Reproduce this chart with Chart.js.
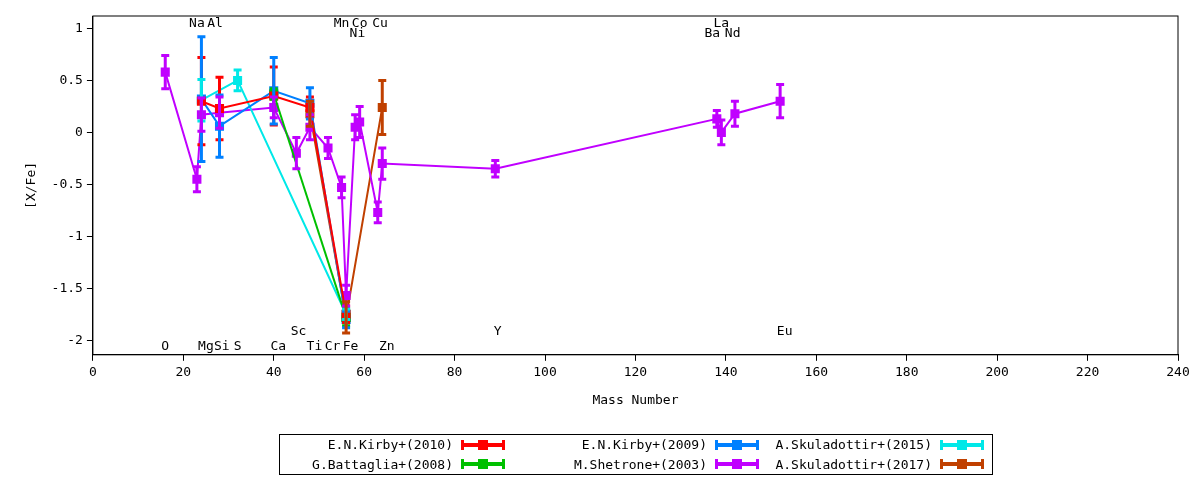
<!DOCTYPE html>
<html>
<head>
<meta charset="utf-8">
<script src="https://cdn.jsdelivr.net/npm/chart.js@4"></script>
<style>
  body { margin: 0; background: #fff; font-family: "DejaVu Sans Mono", monospace; }
  #wrap { position: relative; width: 1200px; height: 480px; }
  #legend { position: absolute; left: 279px; top: 434px; width: 712px; height: 39px; border: 1px solid #000;
    display: grid; grid-template-columns: 233px 254px 225px; font-size: 13px; }
  .item { display: flex; justify-content: flex-end; align-items: center; height: 19px; }
  .sw { width: 44px; height: 4px; margin: 0 8px 0 8px; position: relative; }
  .sw::before, .sw::after { content: ""; position: absolute; top: -3px; width: 3px; height: 10px; background: inherit; }
  .sw::before { left: 0; } .sw::after { right: 0; }
  .sw i { position: absolute; left: 17px; top: -3px; width: 10px; height: 10px; background: inherit; }
</style>
</head>
<body>
<div id="wrap">
  <canvas id="c" width="1200" height="480"></canvas>
  <div id="legend"></div>
</div>
<script>
// mass number, [X/Fe], error
const kirby2010Mass = [24, 28, 40, 48, 56];
const kirby2010Val = [0.30, 0.23, 0.35, 0.24, -1.75];
const kirby2010Err = [0.42, 0.30, 0.28, 0.10, 0.08];

const battagliaMass = [40, 56];
const battagliaVal = [0.37, -1.78];
const battagliaErr = [0.05, 0.08];

const kirby2009Mass = [24, 28, 40, 48, 56];
const kirby2009Val = [0.32, 0.06, 0.40, 0.28, -1.80];
const kirby2009Err = [0.60, 0.30, 0.32, 0.15, 0.08];

const shetroneMass = [16, 23, 24, 28, 40, 45, 48, 52, 55, 56, 58, 59, 63, 64, 89, 138, 139, 142, 152];
const shetroneVal = [0.58, -0.45, 0.17, 0.19, 0.24, -0.20, 0.05, -0.15, -0.53, -1.57, 0.05, 0.10, -0.77, -0.30, -0.35, 0.13, 0.00, 0.18, 0.30];
const shetroneErr = [0.16, 0.12, 0.16, 0.15, 0.10, 0.15, 0.12, 0.10, 0.10, 0.10, 0.12, 0.15, 0.10, 0.15, 0.08, 0.08, 0.12, 0.12, 0.16];

const skul2015Mass = [24, 32, 56];
const skul2015Val = [0.31, 0.50, -1.75];
const skul2015Err = [0.20, 0.10, 0.05];

const skul2017Mass = [48, 56, 64];
const skul2017Val = [0.18, -1.78, 0.24];
const skul2017Err = [0.12, 0.15, 0.26];

const seriesNames = ["E.N.Kirby+(2010)", "E.N.Kirby+(2009)", "A.Skuladottir+(2015)",
                     "G.Battaglia+(2008)", "M.Shetrone+(2003)", "A.Skuladottir+(2017)"];

// element labels: name, mass, y position
const topLabels = [["Na", 23, 1.05], ["Al", 27, 1.05], ["Mn", 55, 1.05], ["Co", 59, 1.05], ["Cu", 63.5, 1.05],
                   ["Ni", 58.5, 0.95], ["La", 139, 1.05], ["Ba", 137, 0.95], ["Nd", 141.5, 0.95]];
const bottomLabels = [["Sc", 45.5, -1.92], ["Y", 89.5, -1.92], ["Eu", 153, -1.92],
                      ["O", 16, -2.06], ["Mg", 25, -2.06], ["Si", 28.5, -2.06], ["S", 32, -2.06],
                      ["Ca", 41, -2.06], ["Ti", 49, -2.06], ["Cr", 53, -2.06], ["Fe", 57, -2.06], ["Zn", 65, -2.06]];

function pts(m, v, e) { return m.map((x, i) => ({ x: x, y: v[i], e: e[i] })); }

function ds(label, color, m, v, e) {
  return { label: label, data: pts(m, v, e), borderColor: color, backgroundColor: color,
    showLine: true, borderWidth: 2, pointStyle: 'rect', pointRadius: 5, pointHoverRadius: 5 };
}

const datasets = [
  ds("E.N.Kirby+(2010)", "#ff0000", kirby2010Mass, kirby2010Val, kirby2010Err),
  ds("G.Battaglia+(2008)", "#00c000", battagliaMass, battagliaVal, battagliaErr),
  ds("E.N.Kirby+(2009)", "#0080ff", kirby2009Mass, kirby2009Val, kirby2009Err),
  ds("A.Skuladottir+(2015)", "#00e8e8", skul2015Mass, skul2015Val, skul2015Err),
  ds("M.Shetrone+(2003)", "#c000ff", shetroneMass, shetroneVal, shetroneErr),
  ds("A.Skuladottir+(2017)", "#c04000", skul2017Mass, skul2017Val, skul2017Err)
];

const errorBars = {
  id: 'errorBars',
  afterDatasetsDraw(chart) {
    const ctx = chart.ctx, xs = chart.scales.x, ys = chart.scales.y;
    chart.data.datasets.forEach(d => {
      ctx.save();
      ctx.strokeStyle = d.borderColor;
      ctx.lineWidth = 3;
      d.data.forEach(p => {
        const px = xs.getPixelForValue(p.x);
        const y1 = ys.getPixelForValue(p.y + p.e), y2 = ys.getPixelForValue(p.y - p.e);
        ctx.beginPath();
        ctx.moveTo(px, y1); ctx.lineTo(px, y2);
        ctx.moveTo(px - 4, y1); ctx.lineTo(px + 4, y1);
        ctx.moveTo(px - 4, y2); ctx.lineTo(px + 4, y2);
        ctx.stroke();
      });
      ctx.restore();
    });
    // element names
    ctx.save();
    ctx.font = '13px "DejaVu Sans Mono"';
    ctx.fillStyle = '#000';
    ctx.textAlign = 'center';
    ctx.textBaseline = 'middle';
    topLabels.concat(bottomLabels).forEach(l => {
      ctx.fillText(l[0], xs.getPixelForValue(l[1]), ys.getPixelForValue(l[2]));
    });
    ctx.restore();
  }
};

const frame = {
  id: 'frame',
  afterDraw(chart) {
    const a = chart.chartArea, ctx = chart.ctx;
    ctx.save();
    ctx.strokeStyle = '#000';
    ctx.lineWidth = 1;
    ctx.strokeRect(a.left, a.top, a.right - a.left, a.bottom - a.top);
    ctx.restore();
  }
};

Chart.defaults.font.family = '"DejaVu Sans Mono", monospace';
Chart.defaults.font.size = 13;
Chart.defaults.color = '#000';

new Chart(document.getElementById('c'), {
  type: 'scatter',
  data: { datasets: datasets },
  options: {
    responsive: false,
    animation: false,
    layout: { padding: { top: 16, left: 20, right: 22, bottom: 68 } },
    plugins: { legend: { display: false }, tooltip: { enabled: false } },
    scales: {
      x: { type: 'linear', min: 0, max: 240,
        ticks: { stepSize: 20, padding: 4 },
        grid: { drawOnChartArea: false, color: '#000', tickLength: 6 },
        border: { color: '#000' },
        title: { display: true, text: 'Mass Number', padding: { top: 8 } } },
      y: { min: -2.14, max: 1.12,
        afterBuildTicks(s) { s.ticks = [-2, -1.5, -1, -0.5, 0, 0.5, 1].map(v => ({ value: v })); },
        ticks: { padding: 4, callback: v => String(v) },
        grid: { drawOnChartArea: false, color: '#000', tickLength: 6 },
        border: { color: '#000' },
        title: { display: true, text: '[X/Fe]', padding: { bottom: 8 } } }
    }
  },
  plugins: [errorBars, frame]
});

// gnuplot-style legend box
const legendColors = ["#ff0000", "#0080ff", "#00e8e8", "#00c000", "#c000ff", "#c04000"];
const legend = document.getElementById('legend');
seriesNames.forEach((n, i) => {
  const it = document.createElement('div');
  it.className = 'item';
  const t = document.createElement('span');
  t.textContent = n;
  const sw = document.createElement('span');
  sw.className = 'sw';
  sw.style.background = legendColors[i];
  sw.appendChild(document.createElement('i'));
  it.appendChild(t); it.appendChild(sw);
  legend.appendChild(it);
});
</script>
</body>
</html>
